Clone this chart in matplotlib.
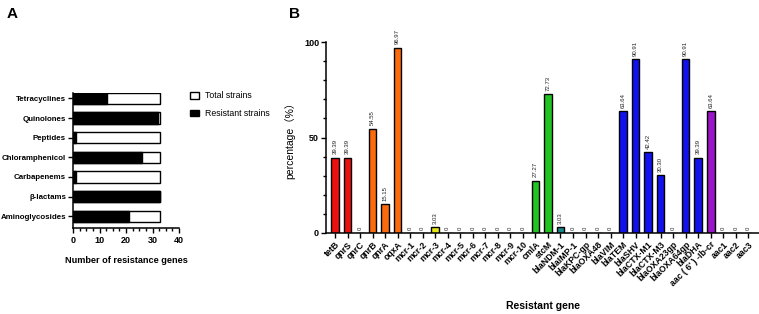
import matplotlib
matplotlib.use("Agg")
import matplotlib.pyplot as plt
from matplotlib.patches import Patch
from matplotlib.ticker import MultipleLocator

# ---------------- data ----------------
classes = ["Aminoglycosides", "β-lactams", "Carbapenems", "Chloramphenicol",
           "Peptides", "Quinolones", "Tetracyclines"]
total_strains = [33, 33, 33, 33, 33, 33, 33]
resistant_strains = [21, 33, 1, 26, 1, 32, 13]

genes = ["tetB", "qnrS", "qnrC", "qnrB", "qnrA", "oqxA",
         "mcr-1", "mcr-2", "mcr-3", "mcr-4", "mcr-5", "mcr-6", "mcr-7", "mcr-8", "mcr-9", "mcr-10",
         "cmlA", "stcM", "blaNDM-1", "blaIMP-1", "blaKPC-gp", "blaOXA48", "blaVIM",
         "blaTEM", "blaSHV", "blaCTX-M1", "blaCTX-M3", "blaOXA23gp", "blaOXA64gp", "blaDHA",
         "aac ( 6' ) -Ib-cr", "aac1", "aac2", "aac3"]
percent = [39.39, 39.39, 0, 54.55, 15.15, 96.97,
           0, 0, 3.03, 0, 0, 0, 0, 0, 0, 0,
           27.27, 72.73, 3.03, 0, 0, 0, 0,
           63.64, 90.91, 42.42, 30.30, 0, 90.91, 39.39,
           63.64, 0, 0, 0]
gene_group = ["tet", "tet", "qnr", "qnr", "qnr", "qnr",
              "mcr1", "mcr1", "mcr3", "mcr1", "mcr1", "mcr1", "mcr1", "mcr1", "mcr1", "mcr1",
              "phen", "phen", "ndm", "bla", "bla", "bla", "bla",
              "bla", "bla", "bla", "bla", "bla", "bla", "bla",
              "aac6", "aac", "aac", "aac"]
group_colors = {"tet": "#ec1010", "qnr": "#fb6a0c", "mcr1": "#e6e616", "mcr3": "#e6e616",
                "phen": "#22c422", "ndm": "#178a8a", "bla": "#1212ee",
                "aac6": "#9a14c8", "aac": "#9a14c8"}

SANS = ["Liberation Sans", "Noto Sans CJK SC", "DejaVu Sans"]

W, H = 759, 314
fig = plt.figure(figsize=(W / 100, H / 100), dpi=100)

# ---------------- panel A ----------------
ax1 = fig.add_axes([73 / W, 1 - 228 / H, 106 / W, 135 / H])
y = list(range(len(classes)))
ax1.barh(y, total_strains, height=0.58, color="white", edgecolor="black", linewidth=1.0)
ax1.barh(y, resistant_strains, height=0.58, color="black", edgecolor="black", linewidth=1.0)
ax1.set_ylim(-0.6, 6.28)
ax1.set_xlim(0, 40)
ax1.set_yticks(y)
ax1.set_yticklabels(classes, family=SANS, fontweight="bold", fontsize=5.7)
ax1.xaxis.set_major_locator(MultipleLocator(10))
ax1.xaxis.set_minor_locator(MultipleLocator(2.5))
for lab in ax1.get_xticklabels():
    lab.set_family(SANS); lab.set_fontweight("bold"); lab.set_fontsize(6.5)
ax1.tick_params(axis="both", which="major", length=3.5, width=1, pad=2)
ax1.tick_params(axis="y", which="major", pad=1.5)
ax1.tick_params(axis="x", which="minor", length=2, width=1)
ax1.spines["top"].set_visible(False)
ax1.spines["right"].set_visible(False)
for s in ("left", "bottom"):
    ax1.spines[s].set_linewidth(1.1)
ax1.set_xlabel("Number of resistance genes", family=SANS, fontweight="bold",
               fontsize=6.6, labelpad=8)

handles = [Patch(facecolor="white", edgecolor="black", linewidth=1.0),
           Patch(facecolor="black", edgecolor="black", linewidth=1.0)]
fig.legend(handles, ["Total strains", "Resistant strains"], loc="upper left",
           bbox_to_anchor=(186 / W, 1 - 88 / H), frameon=False,
           prop={"family": SANS, "size": 6.3}, handlelength=1.1, handleheight=0.75,
           handletextpad=0.7, labelspacing=1.0, borderaxespad=0)

fig.text(7 / W, 1 - 14 / H, "A", fontsize=11, fontweight="bold", va="center",
         family=SANS)
fig.text(289 / W, 1 - 14 / H, "B", fontsize=11, fontweight="bold", va="center",
         family=SANS)

# ---------------- panel B ----------------
ax2 = fig.add_axes([326 / W, 1 - 233 / H, 433 / W, 191 / H])
x = list(range(len(genes)))
colors = [group_colors[g] for g in gene_group]
ax2.bar(x, percent, width=0.6, color=colors, edgecolor="black", linewidth=1.0)
ax2.set_xlim(-0.72, 33.85)
ax2.set_ylim(0, 100)
for xi, v in zip(x, percent):
    txt = "0" if v == 0 else f"{v:.2f}"
    ax2.text(xi, v + 1.8, txt, rotation=90, ha="center", va="bottom",
             fontsize=4.3, family=SANS, color="#222222")
ax2.set_xticks(x)
ax2.set_xticklabels(genes, rotation=45, ha="right", rotation_mode="anchor",
                    family=SANS, fontweight="bold", fontsize=6.3)
ax2.yaxis.set_major_locator(MultipleLocator(50))
ax2.yaxis.set_minor_locator(MultipleLocator(10))
for lab in ax2.get_yticklabels():
    lab.set_family(SANS); lab.set_fontweight("bold"); lab.set_fontsize(6.5)
ax2.tick_params(axis="both", which="major", length=3.5, width=1, pad=1.5)
ax2.tick_params(axis="y", which="minor", length=2, width=1)
ax2.spines["top"].set_visible(False)
ax2.spines["right"].set_visible(False)
for s in ("left", "bottom"):
    ax2.spines[s].set_linewidth(1.1)
ax2.set_ylabel("percentage（%）", family=SANS, fontsize=7.5, labelpad=6)
ax2.set_xlabel("Resistant gene", family=SANS, fontweight="bold", fontsize=7.5,
               labelpad=6)
ax2.xaxis.set_label_coords(0.5, -0.355)

fig.savefig("out.png", dpi=100)
